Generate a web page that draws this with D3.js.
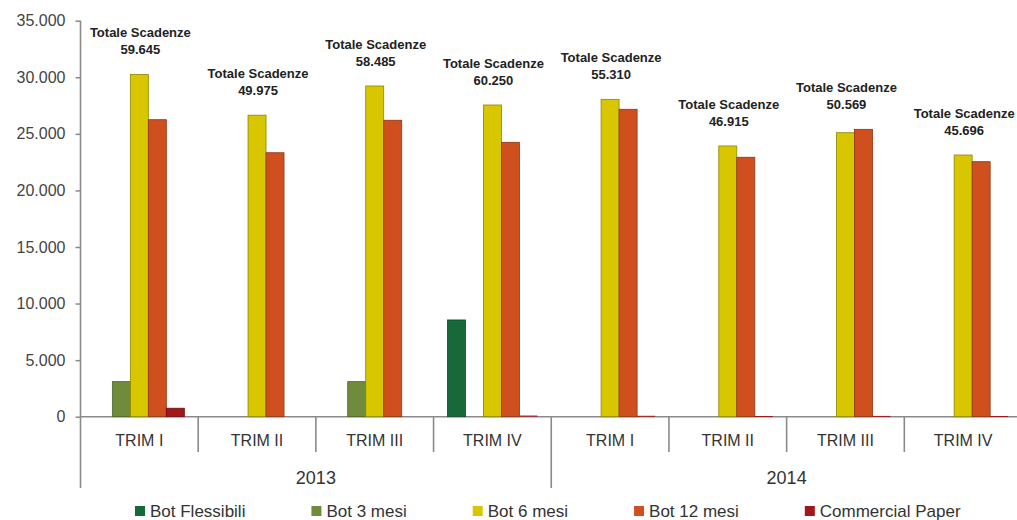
<!DOCTYPE html>
<html>
<head>
<meta charset="utf-8">
<script src="https://cdn.jsdelivr.net/npm/d3@7/dist/d3.min.js"></script>
<style>
  html, body { margin: 0; padding: 0; background: #fff; }
  svg { display: block; font-family: "Liberation Sans", Arial, sans-serif; }
</style>
</head>
<body>
<svg id="chart" width="1017" height="520"></svg>
<script>
// ---- Data ----
const years = ["2013", "2014"];
const quarters = ["TRIM I", "TRIM II", "TRIM III", "TRIM IV"];
const categories = ["2013|TRIM I", "2013|TRIM II", "2013|TRIM III", "2013|TRIM IV",
                    "2014|TRIM I", "2014|TRIM II", "2014|TRIM III", "2014|TRIM IV"];
const seriesNames = ["Bot Flessibili", "Bot 3 mesi", "Bot 6 mesi", "Bot 12 mesi", "Commercial Paper"];
const botFlessibili   = [0,    0,     0,     8550,  0,     0,     0,     0];
const bot3mesi        = [3100, 0,     3100,  0,     0,     0,     0,     0];
const bot6mesi        = [30250, 26650, 29230, 27550, 28050, 23930, 25100, 23130];
const bot12mesi       = [26250, 23330, 26200, 24250, 27170, 22930, 25400, 22540];
const commercialPaper = [750,  0,     0,     100,   80,    60,    70,    60];
const totals = [59645, 49975, 58485, 60250, 55310, 46915, 50569, 45696];
const yTicks = [0, 5000, 10000, 15000, 20000, 25000, 30000, 35000];
const colors = ["#17693a", "#6f8c3c", "#d8c700", "#cf501e", "#a3161a"];
const strokes = ["#0e4a28", "#4c6428", "#8f8400", "#8e3412", "#6e0c0e"];

const seriesValues = [botFlessibili, bot3mesi, bot6mesi, bot12mesi, commercialPaper];

// ---- Layout ----
const svg = d3.select("#chart");
const plotLeft = 80.5, plotRight = 1022, y0 = 416.7, yTop = 20.7;
const loc = d3.formatLocale({decimal: ",", thousands: ".", grouping: [3], currency: ["", "€"]});
const fmt = loc.format(",d");

const x0 = d3.scaleBand().domain(categories).range([plotLeft, plotRight]).padding(0);
const x1 = d3.scaleBand().domain(seriesNames).range([0, x0.bandwidth()])
  .paddingInner(0).paddingOuter(0.77);
const y = d3.scaleLinear().domain([0, 35000]).range([y0, yTop]);
const xYear = d3.scaleBand().domain(years).range([plotLeft, plotRight]);

// Y axis
const yAxis = d3.axisLeft(y).tickValues(yTicks).tickSize(5).tickPadding(10)
  .tickFormat(d => fmt(d));
const gy = svg.append("g").attr("transform", `translate(${plotLeft},0)`).call(yAxis);
gy.select(".domain").remove();
gy.selectAll(".tick line").attr("stroke", "#8a8a8a").attr("stroke-width", 1.5);
gy.selectAll(".tick text").attr("fill", "#444").style("font-size", "16px");

const axisColor = "#8a8a8a";
// left axis line extends down to year row
svg.append("line").attr("x1", plotLeft).attr("x2", plotLeft)
  .attr("y1", yTop).attr("y2", 488).attr("stroke", axisColor).attr("stroke-width", 1.6);
// x axis baseline
svg.append("line").attr("x1", plotLeft).attr("x2", plotRight)
  .attr("y1", y(0)).attr("y2", y(0)).attr("stroke", axisColor).attr("stroke-width", 1.6);

// Quarter dividers
svg.append("g").selectAll("line").data(categories.slice(1)).join("line")
  .attr("x1", d => x0(d)).attr("x2", d => x0(d))
  .attr("y1", y(0)).attr("y2", d => d.endsWith("TRIM I") ? 488 : 452)
  .attr("stroke", axisColor).attr("stroke-width", 1.6);

// Quarter labels
svg.append("g").selectAll("text").data(categories).join("text")
  .attr("x", d => x0(d) + x0.bandwidth() / 2)
  .attr("y", 446)
  .attr("text-anchor", "middle")
  .attr("fill", "#333")
  .style("font-size", "16px")
  .text(d => d.split("|")[1]);

// Year labels
svg.append("g").selectAll("text").data(years).join("text")
  .attr("x", d => xYear(d) + xYear.bandwidth() / 2)
  .attr("y", 484)
  .attr("text-anchor", "middle")
  .attr("fill", "#333")
  .style("font-size", "18px")
  .text(d => d);

// Bars
const groups = svg.append("g").selectAll("g").data(categories).join("g")
  .attr("transform", d => `translate(${x0(d)},0)`);
groups.selectAll("rect")
  .data((d, i) => seriesNames.map((s, k) => ({s, k, v: seriesValues[k][i]})).filter(o => o.v > 0))
  .join("rect")
  .attr("x", o => x1(o.s))
  .attr("width", x1.bandwidth())
  .attr("y", o => y(o.v))
  .attr("height", o => Math.max(1, y(0) - y(o.v)))
  .attr("fill", o => colors[o.k])
  .attr("stroke", o => strokes[o.k])
  .attr("stroke-width", o => (y(0) - y(o.v)) > 3 ? 0.8 : 0);

// Annotations
const ann = svg.append("g").selectAll("g").data(categories).join("g");
ann.each(function(d, i) {
  const maxV = d3.max(seriesValues, arr => arr[i]);
  const cx = x0(d) + x0.bandwidth() / 2 + 1;
  const base = y(maxV) - 20;
  const g = d3.select(this);
  g.append("text").attr("x", cx).attr("y", base - 17)
    .attr("text-anchor", "middle").attr("fill", "#222")
    .style("font-size", "13px").style("font-weight", "bold")
    .text("Totale Scadenze");
  g.append("text").attr("x", cx).attr("y", base)
    .attr("text-anchor", "middle").attr("fill", "#222")
    .style("font-size", "13px").style("font-weight", "bold")
    .text(fmt(totals[i]));
});

// Legend
const legend = svg.append("g");
let lx = 135;
seriesNames.forEach((s, k) => {
  legend.append("rect").attr("x", lx).attr("y", 506).attr("width", 10).attr("height", 10)
    .attr("fill", colors[k]);
  const t = legend.append("text").attr("x", lx + 15).attr("y", 517)
    .attr("fill", "#333").style("font-size", "17px").text(s);
  lx += 15 + t.node().getComputedTextLength() + 66;
});
</script>
</body>
</html>
